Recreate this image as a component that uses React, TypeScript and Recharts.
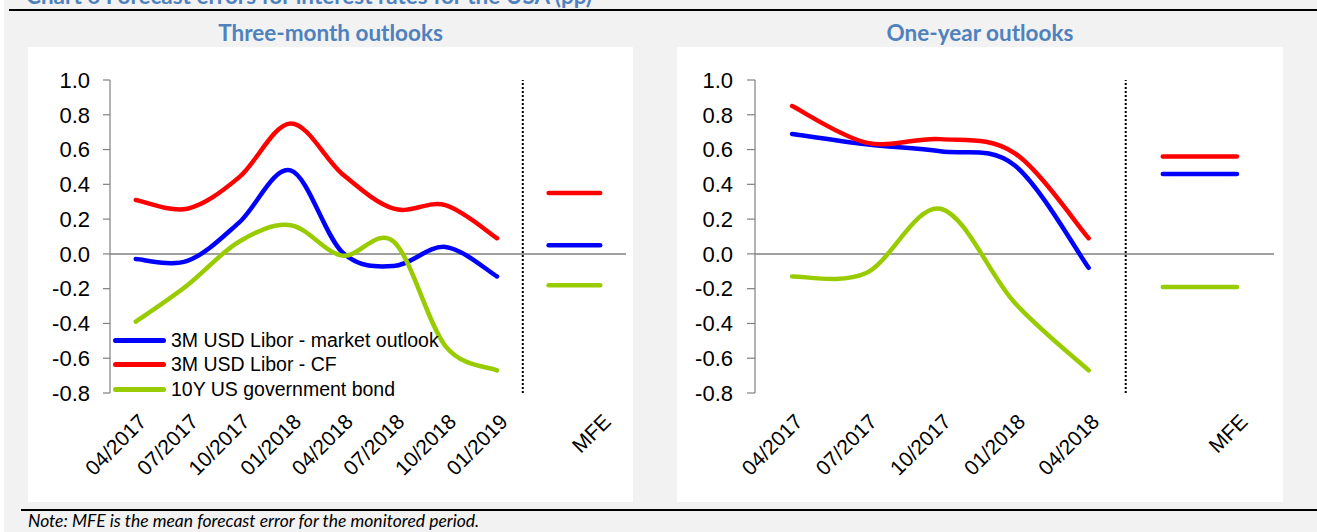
import React from 'react';
import { LineChart, Line, XAxis, YAxis, ReferenceLine, Legend } from 'recharts';

const LEFT_CATEGORIES = ['04/2017', '07/2017', '10/2017', '01/2018', '04/2018', '07/2018', '10/2018', '01/2019', '', 'MFE'];
const LEFT_MARKET = [-0.03, -0.04, 0.18, 0.48, 0.01, -0.07, 0.04, -0.13];
const LEFT_CF = [0.31, 0.26, 0.44, 0.75, 0.46, 0.26, 0.28, 0.09];
const LEFT_BOND = [-0.39, -0.18, 0.07, 0.165, -0.01, 0.07, -0.53, -0.67];
const LEFT_MFE = [0.05, 0.35, -0.18]; // market, CF, bond

const RIGHT_CATEGORIES = ['04/2017', '07/2017', '10/2017', '01/2018', '04/2018', '', 'MFE'];
const RIGHT_MARKET = [0.69, 0.63, 0.59, 0.51, -0.08];
const RIGHT_CF = [0.85, 0.64, 0.66, 0.58, 0.09];
const RIGHT_BOND = [-0.13, -0.11, 0.26, -0.28, -0.67];
const RIGHT_MFE = [0.46, 0.56, -0.19];

const Y_TICKS = [-0.8, -0.6, -0.4, -0.2, 0, 0.2, 0.4, 0.6, 0.8, 1.0];

const SERIES_NAMES = ['3M USD Libor - market outlook', '3M USD Libor - CF', '10Y US government bond'];
const COLORS = ['#0000ff', '#ff0000', '#99cc00'];

const AXIS_FONT = '"Liberation Sans", Arial, sans-serif';
const TITLE_FONT = 'Lato, "Open Sans", sans-serif';

// Excel-like smoothed line (Catmull-Rom style bezier)
const excelSmooth = (context: any) => {
  let xs: number[] = [];
  let ys: number[] = [];
  return {
    areaStart() {},
    areaEnd() {},
    lineStart() {
      xs = [];
      ys = [];
    },
    point(x: number, y: number) {
      xs.push(+x);
      ys.push(+y);
    },
    lineEnd() {
      const n = xs.length;
      if (!n) return;
      context.moveTo(xs[0], ys[0]);
      if (n === 1) {
        context.lineTo(xs[0], ys[0]);
        return;
      }
      for (let i = 0; i < n - 1; i++) {
        const i0 = Math.max(i - 1, 0);
        const i3 = Math.min(i + 2, n - 1);
        context.bezierCurveTo(
          xs[i] + (xs[i + 1] - xs[i0]) / 6,
          ys[i] + (ys[i + 1] - ys[i0]) / 6,
          xs[i + 1] - (xs[i3] - xs[i]) / 6,
          ys[i + 1] - (ys[i3] - ys[i]) / 6,
          xs[i + 1],
          ys[i + 1]
        );
      }
    },
  };
};

const buildRows = (market: number[], cf: number[], bond: number[], mfe: number[]) => {
  const rows: any[] = market.map((v, i) => ({ x: i, market: v, cf: cf[i], bond: bond[i] }));
  const n = market.length;
  rows.push({ x: n, marketMfe: mfe[0], cfMfe: mfe[1], bondMfe: mfe[2] });
  rows.push({ x: n + 1, marketMfe: mfe[0], cfMfe: mfe[1], bondMfe: mfe[2] });
  return rows;
};

const makeTick = (labels: string[]) => (props: any) => {
  const { x, y, payload } = props;
  const tx = x + 12;
  const ty = y + 30;
  return (
    <text
      x={tx}
      y={ty}
      transform={`rotate(-45, ${tx}, ${ty})`}
      textAnchor="end"
      fontSize={21}
      fontFamily={AXIS_FONT}
      fill="#000"
    >
      {labels[payload.value]}
    </text>
  );
};

const renderLegend = (props: any) => (
  <div>
    {(props.payload || [])
      .filter((p: any) => SERIES_NAMES.includes(p.value))
      .sort((a: any, b: any) => SERIES_NAMES.indexOf(a.value) - SERIES_NAMES.indexOf(b.value))
      .map((p: any) => (
        <div key={p.value} style={{ display: 'flex', alignItems: 'center', height: 24.5 }}>
          <span
            style={{ display: 'inline-block', width: 53, height: 5, borderRadius: 3, background: p.color, marginRight: 5 }}
          />
          <span style={{ fontFamily: AXIS_FONT, fontSize: 19.5, color: '#000', whiteSpace: 'nowrap' }}>{p.value}</span>
        </div>
      ))}
  </div>
);

interface PanelProps {
  left: number;
  width: number;
  title: string;
  categories: string[];
  rows: any[];
  yAxisWidth: number;
  rightMargin: number;
  tickSize: number;
  tickMargin: number;
  showLegend: boolean;
}

const Panel = ({ left, width, title, categories, rows, yAxisWidth, rightMargin, tickSize, tickMargin, showLegend }: PanelProps) => {
  const last = categories.length - 1;
  const nDates = last - 1;
  return (
    <>
      <div
        style={{
          position: 'absolute',
          left,
          width,
          top: 20,
          textAlign: 'center',
          fontFamily: TITLE_FONT,
          fontWeight: 700,
          fontSize: 22.5,
          lineHeight: '26px',
          color: '#4f81bd',
        }}
      >
        {title}
      </div>
      <div style={{ position: 'absolute', left, top: 47, width, height: 455, background: '#fff' }}>
        <LineChart width={width} height={455} data={rows} margin={{ top: 33, right: rightMargin, left: 0, bottom: 0 }}>
          <XAxis
            type="number"
            dataKey="x"
            domain={[-0.5, last + 0.5]}
            ticks={categories.map((_, i) => i)}
            interval={0}
            axisLine={false}
            tickLine={false}
            tickSize={0}
            tickMargin={0}
            height={109}
            tick={makeTick(categories)}
          />
          <YAxis
            type="number"
            domain={[-0.8, 1.0]}
            ticks={Y_TICKS}
            interval={0}
            width={yAxisWidth}
            tickFormatter={(v: number) => v.toFixed(1)}
            axisLine={{ stroke: '#808080', strokeWidth: 1.2 }}
            tickLine={{ stroke: '#808080', strokeWidth: 1.2 }}
            tickSize={tickSize}
            tickMargin={tickMargin}
            tick={{ fontSize: 22, fontFamily: AXIS_FONT, fill: '#000' }}
          />
          <ReferenceLine y={0} stroke="#808080" strokeWidth={1.5} />
          <ReferenceLine x={nDates - 0.5} stroke="#000" strokeWidth={2} strokeDasharray="2 2" />
          {['market', 'cf', 'bond'].map((key, i) => (
            <Line
              key={key}
              dataKey={key}
              name={SERIES_NAMES[i]}
              type={excelSmooth as any}
              stroke={COLORS[i]}
              strokeWidth={4.5}
              strokeLinecap="round"
              dot={false}
              activeDot={false}
              isAnimationActive={false}
            />
          ))}
          {['marketMfe', 'cfMfe', 'bondMfe'].map((key, i) => (
            <Line
              key={key}
              dataKey={key}
              legendType="none"
              type="linear"
              stroke={COLORS[i]}
              strokeWidth={4.5}
              strokeLinecap="round"
              dot={false}
              activeDot={false}
              isAnimationActive={false}
            />
          ))}
          {showLegend && (
            <Legend
              layout="vertical"
              align="center"
              verticalAlign="middle"
              wrapperStyle={{ left: 85, top: 281, width: 'auto' }}
              content={renderLegend}
            />
          )}
        </LineChart>
      </div>
    </>
  );
};

export default function App() {
  const leftRows = buildRows(LEFT_MARKET, LEFT_CF, LEFT_BOND, LEFT_MFE);
  const rightRows = buildRows(RIGHT_MARKET, RIGHT_CF, RIGHT_BOND, RIGHT_MFE);
  return (
    <div
      style={{
        position: 'absolute',
        left: 0,
        top: 0,
        width: 1317,
        height: 532,
        overflow: 'hidden',
        background: '#f2f2f2',
      }}
    >
      <div style={{ position: 'absolute', left: 0, top: 0, width: 4, height: 532, background: '#fff' }} />
      <div
        style={{
          position: 'absolute',
          left: 26,
          top: -16,
          fontFamily: TITLE_FONT,
          fontWeight: 700,
          fontSize: 22.5,
          lineHeight: '24px',
          color: '#4f81bd',
          whiteSpace: 'nowrap',
        }}
      >
        Chart 6 Forecast errors for interest rates for the USA (pp)
      </div>
      <div style={{ position: 'absolute', left: 9, top: 9, width: 1308, height: 2, background: '#000' }} />
      <Panel
        left={28}
        width={605}
        title="Three-month outlooks"
        categories={LEFT_CATEGORIES}
        rows={leftRows}
        yAxisWidth={82}
        rightMargin={7}
        tickSize={7}
        tickMargin={13}
        showLegend
      />
      <Panel
        left={677}
        width={606}
        title="One-year outlooks"
        categories={RIGHT_CATEGORIES}
        rows={rightRows}
        yAxisWidth={78}
        rightMargin={9}
        tickSize={8}
        tickMargin={14}
        showLegend={false}
      />
      <div style={{ position: 'absolute', left: 21, top: 509, width: 1296, height: 2, background: '#000' }} />
      <div
        style={{
          position: 'absolute',
          left: 28,
          top: 511,
          fontFamily: TITLE_FONT,
          fontStyle: 'italic',
          fontSize: 17.5,
          lineHeight: '20px',
          color: '#000',
          whiteSpace: 'nowrap',
        }}
      >
        Note: MFE is the mean forecast error for the monitored period.
      </div>
    </div>
  );
}
